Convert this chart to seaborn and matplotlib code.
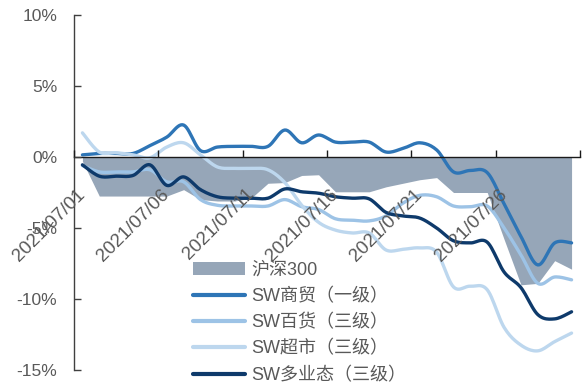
import numpy as np
import pandas as pd
import matplotlib
matplotlib.use("Agg")
import matplotlib.pyplot as plt
import seaborn as sns

# ---------------- data (values in %) ----------------
dates = [f"2021/07/{d:02d}" for d in range(1, 31)]
hs300 = [-0.3, -2.75, -2.75, -2.75, -2.75, -2.75, -2.3, -3.0, -3.1, -3.1,
         -2.9, -1.85, -1.8, -1.3, -1.25, -2.45, -2.45, -2.45, -2.1, -1.85,
         -1.6, -1.45, -2.5, -2.5, -2.5, -5.8, -9.0, -8.9, -7.3, -7.9]
sw_trade = [0.15, 0.25, 0.25, 0.25, 0.8, 1.4, 2.25, 0.45, 0.7, 0.75,
            0.75, 0.75, 1.9, 1.0, 1.55, 1.05, 1.05, 1.05, 0.35, 0.6,
            1.0, 0.5, -1.05, -0.95, -1.1, -3.3, -5.6, -7.6, -6.05, -6.05]
sw_dept = [-0.6, -1.05, -1.05, -1.05, -0.9, -1.75, -1.75, -3.0, -3.4, -3.45,
           -3.45, -3.45, -3.0, -3.5, -3.7, -4.35, -4.45, -4.5, -4.15, -3.25,
           -2.7, -2.8, -3.45, -3.5, -3.45, -5.0, -6.9, -8.9, -8.45, -8.65]
sw_super = [1.7, 0.35, 0.3, 0.15, -0.05, 0.7, 1.0, 0.15, -0.7, -0.8,
            -0.8, -0.9, -1.8, -3.4, -4.6, -5.15, -5.35, -5.35, -6.55, -6.5,
            -6.4, -6.7, -9.15, -9.1, -9.35, -12.0, -13.25, -13.65, -13.0, -12.4]
sw_multi = [-0.55, -1.35, -1.35, -1.3, -0.55, -2.0, -1.4, -2.3, -2.8, -2.9,
            -2.9, -2.9, -2.25, -2.45, -2.55, -2.8, -2.9, -2.95, -3.9, -4.15,
            -4.3, -5.0, -5.9, -6.05, -6.0, -8.1, -9.2, -11.1, -11.4, -10.9]
y_ticks = [10, 5, 0, -5, -10, -15]
y_labels = ["10%", "5%", "0%", "-5%", "-10%", "-15%"]
names = ["沪深300", "SW商贸（一级）", "SW百货（三级）", "SW超市（三级）", "SW多业态（三级）"]

colors = {"area": "#96A6B8", "trade": "#2E75B6", "dept": "#9DC3E6",
          "super": "#BDD7EE", "multi": "#0E3A6B"}
text_color = "#595959"


def smooth(xv, yv, n=12):
    """Catmull-Rom style smoothing (Excel 'smoothed line' look)."""
    xv = np.asarray(xv, float)
    yv = np.asarray(yv, float)
    P = np.column_stack([xv, yv])
    P = np.vstack([P[0], P, P[-1]])
    out = []
    for i in range(1, len(P) - 2):
        p0, p1, p2, p3 = P[i - 1], P[i], P[i + 1], P[i + 2]
        t = np.linspace(0, 1, n, endpoint=False)[:, None]
        c1 = p1 + (p2 - p0) / 6.0
        c2 = p2 - (p3 - p1) / 6.0
        b = ((1 - t) ** 3) * p1 + 3 * ((1 - t) ** 2) * t * c1 + 3 * (1 - t) * t ** 2 * c2 + t ** 3 * p2
        out.append(b)
    out.append(P[-2][None, :])
    out = np.vstack(out)
    return out[:, 0], out[:, 1]


sns.set_style("white")
plt.rcParams["font.family"] = ["Liberation Sans", "Noto Sans CJK SC", "DejaVu Sans"]
plt.rcParams["axes.unicode_minus"] = False

fig = plt.figure(figsize=(5.83, 3.85), dpi=100)
ax = fig.add_axes([74 / 583, 1 - 370 / 385, (580 - 74) / 583, (370 - 15) / 385])
ax.set_axisbelow(False)

x = np.arange(len(dates))
ax.fill_between(x, 0, hs300, color=colors["area"], lw=0, label=names[0], zorder=1)

series = [(sw_trade, "trade"), (sw_dept, "dept"), (sw_super, "super"), (sw_multi, "multi")]
for (vals, key), nm in zip(series, names[1:]):
    xs, ys = smooth(x, vals)
    df = pd.DataFrame({"x": xs, "y": ys})
    sns.lineplot(data=df, x="x", y="y", ax=ax, color=colors[key], lw=2.4,
                 sort=False, estimator=None, label=nm, zorder=2)

ax.set_xlim(-0.5, len(dates) - 0.5)
ax.set_ylim(-15, 10)
ax.set_xlabel("")
ax.set_ylabel("")

# spines
for s in ["top", "right"]:
    ax.spines[s].set_visible(False)
ax.spines["bottom"].set_position(("data", 0))
ax.spines["bottom"].set_color("#1a1a1a")
ax.spines["bottom"].set_linewidth(1.0)
ax.spines["left"].set_color("#404040")
ax.spines["left"].set_linewidth(1.0)

# y axis
ax.set_yticks(y_ticks)
ax.set_yticklabels(y_labels)
ax.tick_params(axis="y", direction="in", length=5, width=1, color="#404040",
               labelsize=12.5, labelcolor=text_color, pad=12, left=True)

# x axis: major ticks at group boundaries, labels at every 5th category
ax.set_xticks(np.arange(-0.5, len(dates), 5))
ax.set_xticklabels([])
lab_pos = x[::5]
ax.set_xticks(lab_pos, minor=True)
ax.set_xticklabels([dates[i] for i in lab_pos], minor=True, rotation=45,
                   ha="right", va="center", rotation_mode="anchor")
ax.tick_params(axis="x", which="major", direction="in", length=5, width=1,
               color="#1a1a1a", bottom=True)
ax.tick_params(axis="x", which="minor", length=0, labelsize=13.5,
               labelcolor=text_color, pad=25)

leg = ax.legend(loc="upper left", bbox_to_anchor=(193 / 583, 1 - 262 / 385),
                bbox_transform=fig.transFigure, frameon=False, fontsize=13,
                handlelength=2.9, handletextpad=0.35, labelspacing=0.5,
                borderpad=0, borderaxespad=0)
for t in leg.get_texts():
    t.set_color(text_color)
for h in leg.get_lines():
    h.set_linewidth(3)

fig.savefig("out.png", dpi=100)
